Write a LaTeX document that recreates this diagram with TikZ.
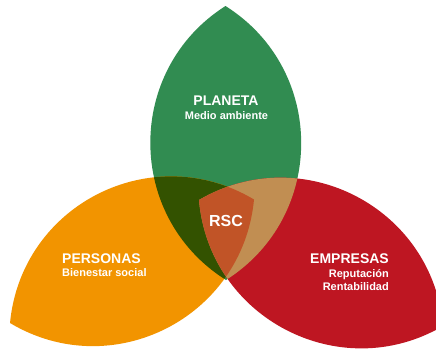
\documentclass[tikz,border=0pt]{standalone}
\usepackage{fontspec}
\setmainfont{Liberation Sans}
\usetikzlibrary{calc}
\definecolor{cgreen}{HTML}{318C51}
\definecolor{corange}{HTML}{F29400}
\definecolor{cred}{HTML}{BE1622}
\definecolor{colive}{HTML}{335200}
\definecolor{ctan}{HTML}{C18E52}
\definecolor{cshield}{HTML}{C15427}
\def\vesK{119pt}
\def\vesPhi{57.7}
\newcommand\vesicapath[2]{(#1) .. controls ($(#1)!\vesK!\vesPhi:(#2)$) and ($(#2)!\vesK!-\vesPhi:(#1)$) .. (#2) .. controls ($(#2)!\vesK!\vesPhi:(#1)$) and ($(#1)!\vesK!-\vesPhi:(#2)$) .. (#1) -- cycle}
\tikzset{
  title/.style={inner sep=0pt, text=white, font=\bfseries\fontsize{14}{14}\selectfont},
  sub/.style={inner sep=0pt, text=white, font=\bfseries\fontsize{11}{11}\selectfont},
  rsc/.style={inner sep=0pt, text=white, font=\bfseries\fontsize{16}{16}\selectfont}
}
\begin{document}
\begin{tikzpicture}[x=1pt,y=-1pt]
\useasboundingbox (0,0) rectangle (436,349);
\clip (0,0) rectangle (436,349);
% petal tips
\coordinate (gi) at (226,280);
\coordinate (go) at (225.5,6);
\coordinate (oi) at (254,199.5);
\coordinate (oo) at (10,323);
\coordinate (ri) at (199,200);
\coordinate (ro) at (443,326);
\fill[cgreen] \vesicapath{gi}{go};
\fill[corange] \vesicapath{oi}{oo};
\fill[cred] \vesicapath{ri}{ro};
\begin{scope}
  \clip \vesicapath{gi}{go};
  \fill[colive] \vesicapath{oi}{oo};
  \fill[ctan] \vesicapath{ri}{ro};
\end{scope}
\begin{scope}
  \clip \vesicapath{oi}{oo};
  \fill[cshield] \vesicapath{ri}{ro};
\end{scope}
\node[title, anchor=base] (planeta) at (226,105) {PLANETA};
\node[sub, anchor=base] (medio) at (226.5,119) {Medio ambiente};
\node[rsc, anchor=base] (rscn) at (226,226) {RSC};
\node[title, anchor=base west] (personas) at (62,263) {PERSONAS};
\node[sub, anchor=base west] (bien) at (62,276) {Bienestar social};
\node[title, anchor=base east] (empresas) at (389,263) {EMPRESAS};
\node[sub, anchor=base east] (repu) at (389,277) {Reputación};
\node[sub, anchor=base east] (renta) at (389,290) {Rentabilidad};
\end{tikzpicture}
\end{document}
